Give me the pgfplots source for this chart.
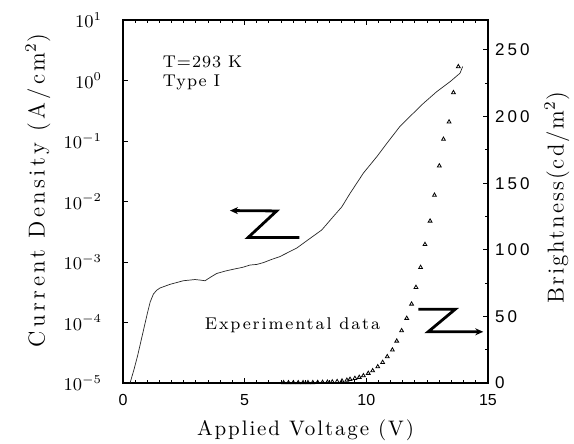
\documentclass[border=0pt]{standalone}
\usepackage{fontspec}
\setsansfont{Liberation Sans}
\newfontfamily\ylabfont{Latin Modern Roman}[LetterSpace=15]
\newfontfamily\rlabfont{Latin Modern Roman}[LetterSpace=9]
\newfontfamily\xlabfont{Latin Modern Roman}[LetterSpace=9]
\newfontfamily\notefont{Latin Modern Roman}[LetterSpace=11]
\newfontfamily\tfont{Latin Modern Roman}[LetterSpace=6]
\newfontfamily\ticksans{Liberation Sans}[LetterSpace=18]
\usepackage{pgfplots}
\pgfplotsset{compat=1.18}
\usetikzlibrary{calc,arrows.meta}

\pgfplotstableread{
V     J
0.29  1.00e-5
0.45  1.66e-5
0.60  2.82e-5
0.80  6.31e-5
1.00  1.41e-4
1.12  2.20e-4
1.25  2.95e-4
1.38  3.40e-4
1.52  3.72e-4
1.93  4.27e-4
2.48  4.90e-4
2.96  5.13e-4
3.20  5.01e-4
3.37  4.90e-4
3.60  5.62e-4
3.85  6.46e-4
4.20  7.08e-4
4.53  7.59e-4
4.90  8.13e-4
5.22  8.91e-4
5.50  9.12e-4
5.77  9.77e-4
6.10  1.10e-3
6.45  1.23e-3
6.80  1.45e-3
7.14  1.70e-3
7.55  2.24e-3
8.17  3.39e-3
8.64  5.62e-3
8.99  8.13e-3
9.33  1.36e-2
9.88  2.95e-2
10.43 5.50e-2
10.84 9.12e-2
11.38 0.174
11.93 0.288
12.34 0.417
12.89 0.653
13.44 0.955
13.85 1.32
13.96 1.70
}\currentdata

\pgfplotstableread{
V     B
6.6   0.2
6.8   0.2
7.0   0.2
7.2   0.2
7.4   0.3
7.6   0.3
7.8   0.3
8.0   0.4
8.2   0.5
8.4   0.6
8.6   0.8
8.8   1.1
9.0   1.5
9.2   2.1
9.33  2.8
9.53  3.5
9.71  4.3
9.88  5.5
10.08 7.3
10.26 9.2
10.47 12.2
10.67 15.5
10.86 19.8
11.07 24.8
11.25 31.5
11.45 39.3
11.66 48.6
11.86 59.3
12.04 71.8
12.23 86.8
12.41 104
12.62 121.6
12.80 141
13.00 163
13.17 183
13.40 196
13.58 218
13.78 237.5
}\brightdata

\begin{document}
\begin{tikzpicture}
\pgfplotsset{
  every axis/.append style={
    scale only axis, width=182.5pt, height=181.5pt,
    xmin=0, xmax=15,
    axis line style={line width=0.9pt},
    major tick length=2.7pt, minor tick length=1.5pt,
    tick style={line width=0.5pt, black},
  },
}
\begin{axis}[
  name=main,
  tick align=inside,
  ymode=log, ymin=1e-5, ymax=10,
  xtick={0,5,10,15}, minor x tick num=9,
  ytick={1e-5,1e-4,1e-3,1e-2,1e-1,1,10}, yminorticks=false,
  ytick pos=left,
  xticklabel={\pgfmathprintnumber[assume math mode=true]{\tick}},
  xticklabel style={font=\sffamily\fontsize{8}{9}\selectfont, yshift=-2pt},
  yticklabel style={font=\fontsize{9}{10}\selectfont, xshift=-7pt},
  xlabel={Applied Voltage (V)},
  xlabel style={font={\xlabfont\fontsize{10.5}{12}\selectfont},
    at={(axis description cs:0.5,-0.13)}, anchor=center},
  ylabel={Current Density (A/cm$^2$)},
  ylabel style={font={\ylabfont\fontsize{11.5}{13}\selectfont},
    at={(axis description cs:-0.233,0.53)}, anchor=center},
]
\addplot[black!85, line width=0.35pt] table[x=V, y=J] {\currentdata};
\node[anchor=west, font={\tfont\fontsize{8.5}{10}\selectfont}]
  at (rel axis cs:0.09,0.884) {T=293 K};
\node[anchor=west, font={\tfont\fontsize{8.5}{10}\selectfont}]
  at (rel axis cs:0.09,0.829) {Type I};
\node[anchor=west, font={\notefont\fontsize{8.5}{10}\selectfont}]
  at (rel axis cs:0.205,0.160) {Experimental data};
\draw[line width=1.4pt, -{Stealth[length=4pt,width=3.5pt]}]
  (rel axis cs:0.483,0.401) -- (rel axis cs:0.343,0.401)
  -- (rel axis cs:0.421,0.474) -- (rel axis cs:0.293,0.475);
\draw[line width=1.4pt, -{Stealth[length=4pt,width=3.5pt]}]
  (rel axis cs:0.809,0.203) -- (rel axis cs:0.910,0.203)
  -- (rel axis cs:0.836,0.141) -- (rel axis cs:0.987,0.141);
\end{axis}
\begin{axis}[
  axis x line=none, axis y line*=right,
  tick align=inside,
  ymin=0, ymax=272.5,
  ytick={0,50,...,250}, minor y tick num=1,
  clip=false,
  yticklabel={\pgfmathprintnumber[assume math mode=true]{\tick}},
  yticklabel style={font={\ticksans\fontsize{8.5}{10}\selectfont}},
  ylabel={Brightness(cd/m$^2$)},
  ylabel style={font={\rlabfont\fontsize{11.5}{13}\selectfont},
    at={(axis description cs:1.189,0.51)}, anchor=center},
]
\addplot[only marks, mark=triangle, mark size=1.1pt, mark options={line width=0.4pt, black}]
  table[x=V, y=B] {\brightdata};
\end{axis}
\pgfresetboundingbox
\path[use as bounding box] ($(main.south west)+(-61.5pt,-30.5pt)$) rectangle ($(main.north east)+(43pt,10pt)$);
\end{tikzpicture}
\end{document}
